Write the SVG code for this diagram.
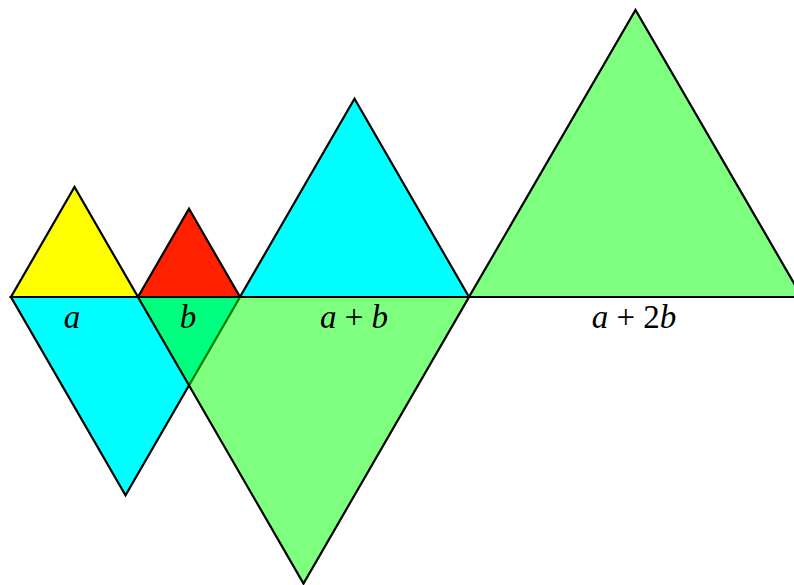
<svg xmlns="http://www.w3.org/2000/svg" width="794" height="585" viewBox="0 0 794 585">
<style>
.t{stroke:#000;stroke-width:2.2;stroke-linejoin:miter}
.g{fill:#00ff00;fill-opacity:0.5}
text{font-family:"Liberation Serif","Times New Roman",serif;font-style:italic;font-size:33px;fill:#000;text-anchor:middle}
.up{font-style:normal}
</style>
<rect width="794" height="585" fill="#fff"/>
<g id="cyan-down"><polygon class="t" fill="#00ffff" points="11,297 240,297 125.5,495.3"/></g>
<g id="green-down"><polygon class="t g" points="138,297 469,297 303.5,583.6"/></g>
<g id="yellow"><polygon class="t" fill="#ffff00" points="11,297 138,297 74.5,187"/></g>
<g id="red"><polygon class="t" fill="#ff2000" points="138,297 240,297 189,208.7"/></g>
<g id="cyan-up"><polygon class="t" fill="#00ffff" points="240,297 469,297 354.5,98.7"/></g>
<g id="green-up"><polygon class="t g" points="469,297 802,297 635.5,10"/></g>
<g id="labels">
<text x="72" y="328">a</text>
<text x="188" y="328">b</text>
<text x="354" y="328">a <tspan class="up">+</tspan> b</text>
<text x="634" y="328">a <tspan class="up">+ 2</tspan>b</text>
</g>
</svg>
